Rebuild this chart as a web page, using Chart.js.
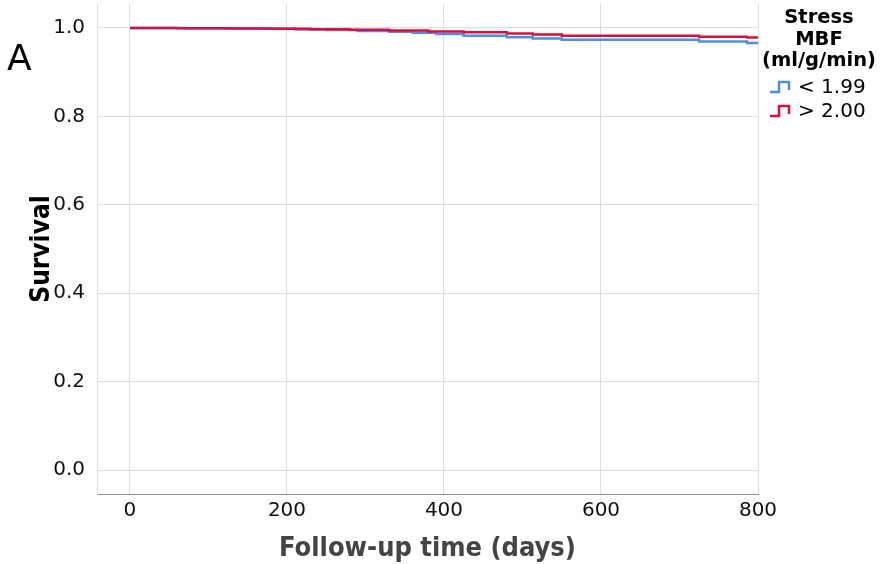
<!DOCTYPE html>
<html>
<head>
<meta charset="utf-8">
<script src="https://cdn.jsdelivr.net/npm/chart.js@4"></script>
<style>
  body { margin: 0; background: #fff; }
  #km { display: block; }
</style>
</head>
<body>
<canvas id="km" width="882" height="564"></canvas>
<script>
// Kaplan-Meier curves
const lowDays  = [0, 40, 70, 120, 170, 210, 250, 290, 330, 360, 390, 425, 480, 513, 550, 725, 786, 800];
const lowSurv  = [1.0, 0.9995, 0.999, 0.9985, 0.998, 0.9965, 0.995, 0.993, 0.991, 0.989, 0.986, 0.982, 0.979, 0.976, 0.973, 0.969, 0.966, 0.966];
const highDays = [0, 40, 60, 130, 180, 230, 280, 330, 380, 425, 480, 513, 550, 725, 786, 800];
const highSurv = [1.0, 0.9995, 0.999, 0.9985, 0.998, 0.997, 0.996, 0.994, 0.992, 0.99, 0.9875, 0.985, 0.982, 0.98, 0.978, 0.978];

const xTicks = [0, 200, 400, 600, 800];
const yTicks = [0, 0.2, 0.4, 0.6, 0.8, 1.0];
const legendTitle = ["Stress", "MBF", "(ml/g/min)"];
const groupLabels = ["< 1.99", "> 2.00"];

const BLUE = "#4d8fe4";
const RED = "#d8103e";
const SANS = "'DejaVu Sans', sans-serif";
const COND = "'DejaVu Sans Condensed', 'DejaVu Sans', sans-serif";

function toPoints(xs, ys) {
  return xs.map((x, i) => ({ x: x, y: ys[i] }));
}

// panel letter + legend drawn on top
const extras = {
  id: "extras",
  afterDraw(chart) {
    const c = chart.ctx;
    c.save();
    c.fillStyle = "#000";
    c.font = "36px " + SANS;
    c.textAlign = "left";
    c.textBaseline = "middle";
    c.fillText("A", 7, 61);

    c.font = "bold 19.5px " + SANS;
    c.textAlign = "center";
    legendTitle.forEach((t, i) => c.fillText(t, 819, 18 + i * 21.5));

    const cols = [BLUE, RED];
    c.font = "20px " + SANS;
    c.textAlign = "left";
    groupLabels.forEach((lab, i) => {
      const y = 87 + i * 24;
      c.strokeStyle = cols[i];
      c.lineWidth = 2.5;
      c.beginPath();
      c.moveTo(770, y + 5);
      c.lineTo(779, y + 5);
      c.lineTo(779, y - 5);
      c.lineTo(789, y - 5);
      c.lineTo(789, y + 3);
      c.stroke();
      c.fillStyle = "#000";
      c.fillText(lab, 798, y + 1);
    });
    c.restore();
  }
};

new Chart(document.getElementById("km"), {
  type: "line",
  data: {
    datasets: [
      {
        label: groupLabels[0],
        data: toPoints(lowDays, lowSurv),
        borderColor: BLUE,
        borderWidth: 2.5,
        stepped: true,
        pointRadius: 0,
        fill: false,
        order: 2
      },
      {
        label: groupLabels[1],
        data: toPoints(highDays, highSurv),
        borderColor: RED,
        borderWidth: 2.5,
        stepped: true,
        pointRadius: 0,
        fill: false,
        order: 1
      }
    ]
  },
  options: {
    responsive: false,
    animation: false,
    layout: { padding: { top: 4, right: 124, left: 0, bottom: 0 } },
    plugins: {
      legend: { display: false },
      tooltip: { enabled: false }
    },
    scales: {
      x: {
        type: "linear",
        min: -42,
        max: 800,
        afterBuildTicks: s => { s.ticks = xTicks.map(v => ({ value: v })); },
        afterFit: s => { s.height = 70; s.paddingLeft = 0; s.paddingRight = 0; },
        grid: { color: "#dcdcdc", drawTicks: false },
        border: { color: "#8c8c8c", width: 1 },
        ticks: { color: "#111", padding: 5, font: { family: SANS, size: 20 } },
        title: {
          display: true,
          text: "Follow-up time (days)",
          color: "#444",
          font: { family: COND, size: 27, weight: "bold" },
          padding: { top: 0, bottom: -1 }
        }
      },
      y: {
        min: -0.054,
        max: 1.054,
        afterBuildTicks: s => { s.ticks = yTicks.map(v => ({ value: v })); },
        afterFit: s => { s.width = 97; s.paddingTop = 0; s.paddingBottom = 0; },
        grid: { color: "#dcdcdc", drawTicks: false },
        border: { color: "#dcdcdc", width: 1 },
        ticks: {
          color: "#111",
          padding: 12,
          font: { family: SANS, size: 20 },
          callback: v => v.toFixed(1)
        },
        title: {
          display: true,
          text: "Survival",
          color: "#000",
          font: { family: COND, size: 26, weight: "bold" },
          padding: { top: 27, bottom: 0 }
        }
      }
    }
  },
  plugins: [extras]
});
</script>
</body>
</html>
